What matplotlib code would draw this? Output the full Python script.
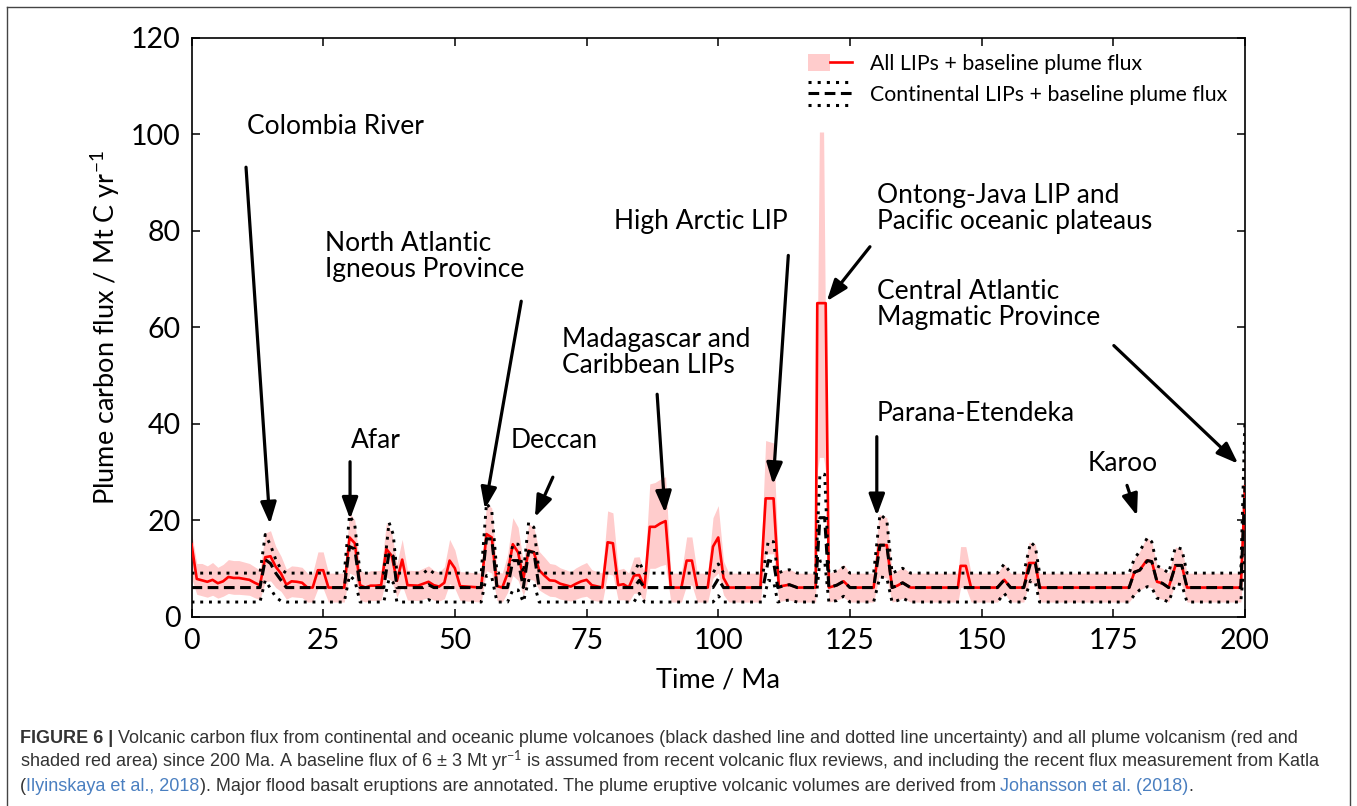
import matplotlib
matplotlib.use('Agg')
import matplotlib.pyplot as plt
from matplotlib.lines import Line2D
from matplotlib.patches import Patch
from matplotlib.legend_handler import HandlerBase, HandlerTuple

plt.rcParams['font.family'] = ['Lato', 'DejaVu Sans']
plt.rcParams['mathtext.fontset'] = 'custom'
plt.rcParams['mathtext.rm'] = 'Lato'
plt.rcParams['mathtext.it'] = 'Lato:italic'
plt.rcParams['mathtext.bf'] = 'Lato:bold'

# ---------------- data ----------------
# All LIPs + baseline plume flux (red line) and its shaded uncertainty
t_all = [0, 1, 2, 3, 4, 5, 6, 7, 8, 9, 10, 11, 12, 13, 14, 15, 16, 17, 18, 19,
         20, 21, 22, 23, 24, 25, 26, 29, 30, 31, 32, 33, 34, 35, 36, 37, 38, 39,
         40, 41, 43, 44, 45, 46, 47, 48, 49, 50, 51, 55, 56, 57, 58, 59, 60, 61,
         62, 63, 64, 65, 66, 67, 68, 69, 70, 71, 72, 73, 74, 75, 76, 78, 79, 80,
         81, 82, 83, 84, 85, 86, 87, 88, 89, 90, 91, 93, 94, 95, 96, 98, 99, 100,
         101, 102, 108, 109, 110.5, 111.5, 112.5, 113.5, 115, 118.5, 118.8, 119.2,
         120.0, 120.4, 121, 122.5, 123.8, 125, 129.5, 130.5, 132, 133, 134, 135,
         136.5, 145.5, 146, 147, 148, 153, 154.3, 155.5, 158, 159, 160.2, 161,
         178, 179, 180, 181.3, 182.3, 183.3, 184.3, 185.5, 186.8, 188, 189, 199.2,
         200]
flux_all = [15.0, 7.8, 7.5, 7.2, 7.6, 6.9, 7.3, 8.2, 8.0, 8.0, 7.8, 7.6, 7.0, 6.5,
            12.3, 12.5, 10.3, 8.9, 6.6, 7.3, 7.2, 7.0, 6.0, 6.0, 9.6, 9.6, 6.0, 6.0,
            16.4, 15.2, 6.5, 6.0, 6.4, 6.4, 6.5, 14.0, 12.6, 7.4, 11.8, 6.5, 6.4,
            6.8, 7.2, 6.5, 6.2, 7.0, 11.6, 10.0, 6.3, 6.0, 17.1, 16.4, 6.3, 6.0,
            8.9, 15.0, 13.3, 7.8, 13.7, 13.3, 9.6, 8.5, 7.5, 7.4, 6.8, 6.5, 6.2,
            6.8, 7.3, 7.6, 6.5, 6.0, 15.4, 15.2, 6.5, 6.7, 6.0, 8.5, 8.6, 6.0,
            18.6, 18.6, 19.3, 19.8, 6.0, 6.0, 11.6, 11.6, 6.0, 6.0, 14.5, 16.4,
            8.0, 6.0, 6.0, 24.5, 24.5, 6.2, 6.4, 6.6, 6.0, 6.0, 65.0, 65.0,
            65.0, 65.0, 6.0, 6.5, 7.3, 6.0, 6.0, 14.8, 14.8, 6.0, 6.4, 7.0,
            6.0, 6.0, 10.5, 10.5, 6.0, 6.0, 7.6, 6.0, 6.0, 11.1, 11.1, 6.0,
            6.0, 9.2, 9.6, 11.6, 11.4, 7.2, 6.9, 6.0, 10.6, 10.6, 6.0, 6.0,
            27.0]
flux_all_hi = [17.5, 11.0, 11.0, 10.5, 11.2, 10.2, 10.8, 11.8, 11.6, 11.6, 11.3, 11.0,
               10.3, 9.6, 17.3, 17.8, 14.5, 12.5, 9.8, 10.5, 10.4, 10.2, 9.0, 9.0,
               13.4, 13.4, 9.0, 9.0, 21.5, 20.0, 9.6, 9.0, 9.5, 9.5, 9.6, 19.5,
               17.5, 11.0, 16.0, 9.6, 9.5, 10.0, 10.5, 9.6, 9.2, 10.3, 16.0, 13.8,
               9.3, 9.0, 23.5, 22.5, 9.3, 9.0, 12.8, 20.5, 18.5, 11.2, 19.2, 18.5,
               13.5, 12.3, 11.0, 10.8, 10.1, 9.7, 9.3, 10.1, 10.7, 11.2, 9.7, 9.0,
               21.9, 21.5, 9.7, 10.0, 9.0, 12.3, 12.4, 9.0, 27.5, 27.8, 28.5, 29.0,
               9.0, 9.0, 16.5, 16.5, 9.0, 9.0, 20.5, 23.0, 11.5, 9.0, 9.0, 36.5,
               36.0, 9.3, 9.6, 9.8, 9.0, 9.0, 55.0, 100.5, 100.5, 55.0, 9.0, 9.6,
               10.8, 9.0, 9.0, 21.2, 20.5, 9.0, 9.5, 10.2, 9.0, 9.0, 14.5, 14.5,
               9.0, 9.0, 10.9, 9.0, 9.0, 15.4, 15.0, 9.0, 9.0, 12.0, 13.5, 16.4,
               15.5, 10.5, 10.0, 9.0, 14.4, 14.0, 9.0, 9.0, 41.0]
flux_all_lo = [8.0, 4.6, 4.3, 4.0, 4.4, 3.8, 4.2, 4.8, 4.6, 4.6, 4.5, 4.4, 3.9, 3.5,
               7.2, 7.4, 6.0, 5.2, 3.6, 4.1, 4.0, 3.9, 3.0, 3.0, 5.8, 5.8, 3.0, 3.0,
               9.0, 8.5, 3.4, 3.0, 3.3, 3.3, 3.4, 8.2, 7.4, 4.0, 6.5, 3.4, 3.3, 3.6,
               3.9, 3.4, 3.2, 3.7, 6.8, 5.8, 3.3, 3.0, 9.5, 9.0, 3.3, 3.0, 5.0, 8.5,
               7.5, 4.4, 7.8, 7.5, 5.5, 4.8, 4.2, 4.1, 3.6, 3.4, 3.2, 3.6, 4.0, 4.2,
               3.4, 3.0, 8.8, 8.6, 3.4, 3.5, 3.0, 4.8, 4.9, 3.0, 10.0, 10.0, 10.5,
               10.8, 3.0, 3.0, 6.5, 6.5, 3.0, 3.0, 8.0, 9.0, 4.5, 3.0, 3.0, 13.0,
               13.0, 3.1, 3.3, 3.4, 3.0, 3.0, 30.0, 33.0, 33.0, 30.0, 3.0, 3.4,
               4.0, 3.0, 3.0, 8.2, 8.0, 3.0, 3.3, 3.8, 3.0, 3.0, 6.0, 6.0, 3.0,
               3.0, 4.8, 3.0, 3.0, 7.0, 7.0, 3.0, 3.0, 4.5, 5.5, 6.2, 6.0, 3.8,
               3.6, 3.0, 6.8, 6.6, 3.0, 3.0, 13.0]

# Continental LIPs + baseline plume flux (black dashed) and dotted uncertainty
t_cont = [0, 13, 14, 15, 16, 17, 18, 29, 30, 31, 32, 36.5, 37.5, 38.3, 39, 44, 45,
          46, 55, 56, 57, 58, 60, 61, 62, 63, 64, 65, 66, 84, 85, 86, 99, 100, 101,
          108.5, 109.5, 110.5, 111.3, 112.5, 113.5, 115, 118.5, 119.3, 120.2, 121,
          122.5, 123.8, 125, 129.5, 130.7, 132, 133, 134, 135, 136.5, 153, 154.3,
          155.5, 158, 159.3, 160.2, 161, 178, 179, 180, 181.5, 182.3, 183.3, 184.3,
          185.5, 186.8, 188, 189, 199.2, 200]
flux_cont = [6.0, 6.0, 11.8, 11.0, 9.0, 7.5, 6.0, 6.0, 14.5, 14.0, 6.0, 6.0, 13.3,
             12.5, 6.0, 6.0, 6.6, 6.0, 6.0, 16.1, 16.1, 6.0, 6.0, 11.6, 11.6, 6.0,
             13.5, 13.3, 6.0, 6.0, 7.5, 6.0, 6.0, 7.8, 6.0, 6.0, 11.6, 11.3, 6.0,
             6.4, 6.6, 6.0, 6.0, 20.5, 20.5, 6.0, 6.5, 7.3, 6.0, 6.0, 14.8, 14.8,
             6.0, 6.4, 7.0, 6.0, 6.0, 7.6, 6.0, 6.0, 11.1, 11.1, 6.0, 6.0, 9.2,
             9.6, 11.6, 11.4, 7.2, 6.9, 6.0, 10.6, 10.6, 6.0, 6.0, 27.0]
flux_cont_hi = [9.0, 9.0, 17.0, 14.8, 11.8, 9.8, 9.0, 9.0, 21.0, 19.0, 9.0, 9.0, 19.5,
                17.0, 9.0, 9.0, 9.8, 9.0, 9.0, 23.5, 22.0, 9.0, 9.0, 15.0, 15.0, 9.0,
                19.5, 18.5, 9.0, 9.0, 11.3, 9.0, 9.0, 10.9, 9.0, 9.0, 15.7, 15.5, 9.0,
                9.5, 9.7, 9.0, 9.0, 29.5, 29.5, 9.0, 9.5, 10.2, 9.0, 9.0, 21.2, 20.0,
                9.0, 9.5, 10.0, 9.0, 9.0, 10.9, 9.0, 9.0, 15.4, 14.5, 9.0, 9.0, 12.0,
                13.5, 16.4, 15.5, 10.5, 10.0, 9.0, 14.4, 14.0, 9.0, 9.0, 41.0]
flux_cont_lo = [3.0, 3.0, 7.5, 5.8, 4.0, 3.2, 3.0, 3.0, 8.5, 7.5, 3.0, 3.0, 7.8, 7.0,
                3.0, 3.0, 3.5, 3.0, 3.0, 8.5, 8.2, 3.0, 3.0, 5.5, 5.5, 3.0, 7.5, 7.0,
                3.0, 3.0, 4.8, 3.0, 3.0, 4.3, 3.0, 3.0, 7.5, 7.3, 3.0, 3.3, 3.4, 3.0,
                3.0, 11.5, 11.5, 3.0, 3.3, 4.2, 3.0, 3.0, 8.2, 8.0, 3.0, 3.3, 3.8,
                3.0, 3.0, 4.8, 3.0, 3.0, 7.5, 7.0, 3.0, 3.0, 4.5, 5.5, 6.2, 6.0, 3.8,
                3.6, 3.0, 6.8, 6.6, 3.0, 3.0, 13.0]

x_ticks = [0, 25, 50, 75, 100, 125, 150, 175, 200]
y_ticks = [0, 20, 40, 60, 80, 100, 120]

# annotations: label, label position, arrow tail, arrow head
ann_labels = ["Colombia River", "Afar", "North Atlantic\nIgneous Province", "Deccan",
              "Madagascar and\nCaribbean LIPs", "High Arctic LIP",
              "Ontong-Java LIP and\nPacific oceanic plateaus",
              "Central Atlantic\nMagmatic Province", "Parana-Etendeka", "Karoo"]
ann_text_xy = [(10.5, 101.6), (30.2, 36.6), (25.3, 74.6), (60.5, 36.6), (70.3, 54.7),
               (80.2, 82.0), (130.1, 84.6), (130.1, 64.7), (130.1, 42.1), (170.2, 31.8)]
ann_tail = [(10.35, 93.2), (30.1, 32.1), (62.6, 65.4), (68.6, 28.9), (88.4, 46.1),
            (113.3, 74.9), (128.8, 76.7), (175.1, 56.2), (130.1, 37.3), (177.6, 27.2)]
ann_head = [(14.9, 19.2), (30.1, 20.2), (55.7, 22.3), (65.2, 20.6), (89.9, 21.5),
            (110.4, 27.4), (120.6, 65.4), (198.7, 31.7), (130.1, 20.9), (179.5, 20.9)]

# ---------------- figure ----------------
W, H = 1357, 806
fig = plt.figure(figsize=(W / 100, H / 100), dpi=100)
ax = fig.add_axes([191.5 / W, 1 - 616.5 / H, (1245 - 191.5) / W, (616.5 - 38) / H])

pink = '#ffcccc'
dotted = (0, (1, 2.0))
dashed = (0, (3.5, 1.8))

ax.fill_between(t_all, flux_all_lo, flux_all_hi, color=pink, lw=0, zorder=1)
ax.plot(t_all, flux_all, color='#ff0000', lw=1.9, zorder=3)
ax.plot(t_cont, flux_cont, color='k', lw=2.2, ls=dashed, zorder=4)
ax.plot(t_cont, flux_cont_hi, color='k', lw=2.1, ls=dotted, zorder=4)
ax.plot(t_cont, flux_cont_lo, color='k', lw=2.1, ls=dotted, zorder=4)

ax.set_xlim(0, 200)
ax.set_ylim(0, 120)
ax.set_xticks(x_ticks)
ax.set_yticks(y_ticks)
ax.tick_params(direction='in', length=6, width=1.1, labelsize=20.5, top=True, right=True,
               pad=8)
for s in ax.spines.values():
    s.set_linewidth(1.2)
ax.set_xlabel('Time / Ma', fontsize=19.5, labelpad=10)
ax.set_ylabel('Plume carbon flux / Mt C yr$^{-1}$', fontsize=19.5, labelpad=6)

for lab, txy, tail, head in zip(ann_labels, ann_text_xy, ann_tail, ann_head):
    ax.text(txy[0], txy[1], lab, fontsize=19, ha='left', va='center', linespacing=1.05,
            zorder=6)
    ax.annotate('', xy=head, xytext=tail,
                arrowprops=dict(arrowstyle='-|>,head_length=0.65,head_width=0.24',
                                color='k', lw=2.3, shrinkA=0, shrinkB=0,
                                mutation_scale=20), zorder=6)


class HandlerCont(HandlerBase):
    def create_artists(self, legend, orig_handle, xdescent, ydescent, width, height,
                       fontsize, trans):
        arts = []
        yc = -ydescent + height / 2
        for dy, ls in [(0.7 * height, dotted), (0.0, dashed), (-0.7 * height, dotted)]:
            ln = Line2D([-xdescent, -xdescent + width], [yc + dy, yc + dy], color='k',
                        lw=2.2, linestyle=ls, transform=trans)
            arts.append(ln)
        return arts


h_all = (Patch(facecolor=pink, edgecolor='none'), Line2D([], [], color='#ff0000', lw=1.9))
h_cont = object()
leg = ax.legend([h_all, h_cont],
                ['All LIPs + baseline plume flux', 'Continental LIPs + baseline plume flux'],
                handler_map={tuple: HandlerTuple(ndivide=None), type(h_cont): HandlerCont()},
                loc='upper left', bbox_to_anchor=((808 - 191.5) / 1053.5, (616.5 - 54) / 578.5),
                frameon=False, fontsize=15.3, handlelength=2.07, handleheight=0.8,
                handletextpad=0.85, labelspacing=0.5, borderpad=0, borderaxespad=0)

# figure border
fig.add_artist(Line2D([7 / W, 7 / W], [0, 1 - 7 / H], transform=fig.transFigure,
                      color='#444444', lw=1))
fig.add_artist(Line2D([7 / W, 1350 / W], [1 - 7 / H, 1 - 7 / H], transform=fig.transFigure,
                      color='#444444', lw=1))
fig.add_artist(Line2D([1350 / W, 1350 / W], [0, 1 - 7 / H], transform=fig.transFigure,
                      color='#444444', lw=1))

# caption
cap_family = ['Liberation Sans Narrow', 'Liberation Sans', 'DejaVu Sans']
gray = '#333333'
blue = '#4a7fc0'
cap_lines = [
    [("FIGURE 6 |", gray, 'bold'),
     (" Volcanic carbon flux from continental and oceanic plume volcanoes (black dashed line and dotted line uncertainty) and all plume volcanism (red and", gray, 'normal')],
    [("shaded red area) since 200 Ma. A baseline flux of 6 \u00b1 3 Mt yr$^{-1}$ is assumed from recent volcanic flux reviews, and including the recent flux measurement from Katla", gray, 'normal')],
    [("(", gray, 'normal'), ("Ilyinskaya et al., 2018", blue, 'normal'),
     ("). Major flood basalt eruptions are annotated. The plume eruptive volcanic volumes are derived from ", gray, 'normal'),
     ("Johansson et al. (2018)", blue, 'normal'), (".", gray, 'normal')],
]
cap_y = [743, 767, 791]
cap_x0 = 20 / W
renderer = fig.canvas.get_renderer()
for segs, yb in zip(cap_lines, cap_y):
    x = cap_x0
    for txt, col, wt in segs:
        t = fig.text(x, 1 - yb / H, txt, color=col, fontweight=wt, fontsize=12.95,
                     family=cap_family, ha='left', va='baseline')
        bb = t.get_window_extent(renderer=renderer)
        x = bb.x1 / fig.bbox.width

fig.savefig('out.png', dpi=100)
